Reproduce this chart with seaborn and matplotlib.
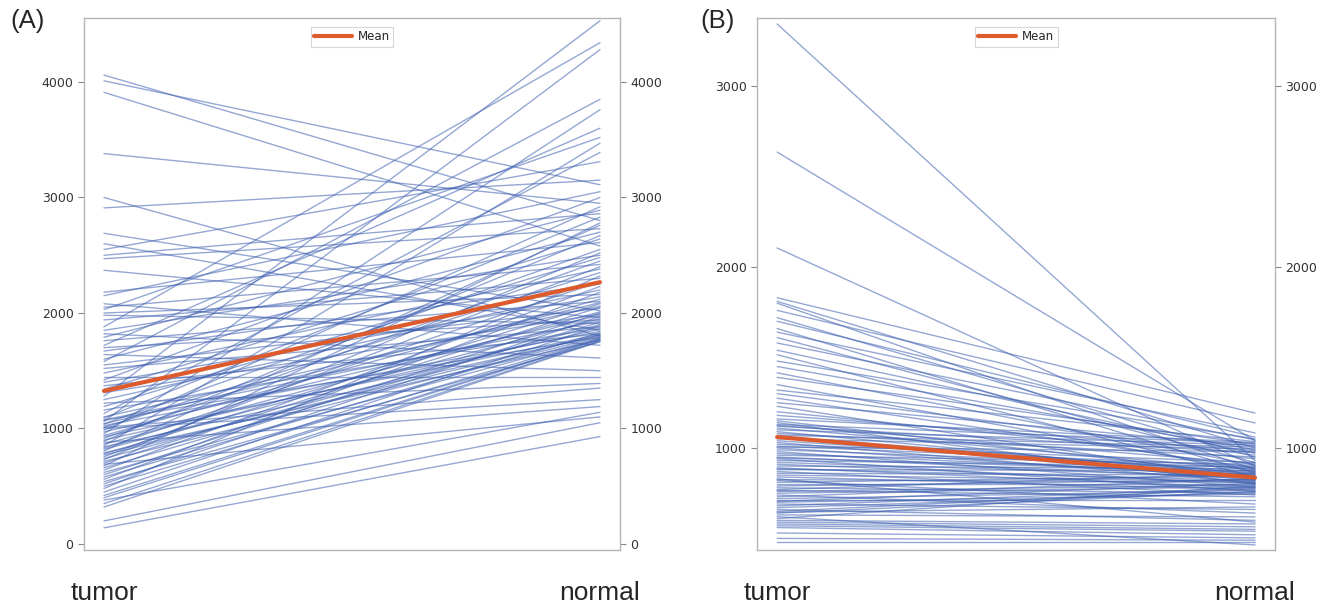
import numpy as np
import pandas as pd
import matplotlib
matplotlib.use('Agg')
import matplotlib.pyplot as plt
import seaborn as sns

# panel A: paired values, tumor -> normal
tumor_a = [4060, 4010, 3910, 3380, 3000, 2910, 2690, 2600, 2550, 2500,
           2470, 2370, 2180, 2150, 2080, 2050, 2030, 2000, 1980, 1940,
           1880, 1850, 1820, 1790, 1760, 1720, 1700, 1670, 1640, 1600,
           1580, 1550, 1520, 1480, 1450, 1420, 1400, 1370, 1340, 1310,
           1280, 1250, 1220, 1190, 1160, 1130, 1100, 1070, 1040, 1010,
           1090, 1075, 1060, 1040, 1025, 1010, 1000, 985, 970, 955,
           940, 930, 915, 900, 890, 880, 865, 850, 840, 830,
           820, 805, 790, 780, 770, 755, 740, 730, 715, 700,
           690, 675, 660, 640, 620, 600, 580, 560, 540, 520,
           500, 480, 450, 420, 400, 380, 350, 320, 200, 140]
normal_a = [2800, 3110, 2580, 2950, 1800, 3150, 2020, 1850, 3310, 2860,
            2730, 1960, 2610, 3050, 1720, 2420, 3520, 2160, 1910, 2300,
            4340, 2500, 1610, 2890, 2100, 3600, 1940, 2250, 1500, 2700,
            3850, 2040, 1880, 2380, 1450, 3000, 2140, 1820, 2640, 1990,
            4530, 2200, 1390, 2480, 1870, 3390, 2060, 1790, 2550, 1350,
            2830, 1930, 4280, 2090, 1840, 2350, 1250, 2920, 1980, 3760,
            2120, 1815, 2450, 1860, 2670, 1190, 2010, 3470, 1805, 2270,
            1950, 2760, 1765, 2080, 1810, 2400, 1900, 2520, 1795, 2050,
            1100, 2780, 1920, 2230, 1785, 2000, 1830, 2180, 1750, 1970,
            1780, 2320, 1890, 1775, 1770, 1140, 1760, 1755, 1050, 930]

# panel B
tumor_b = [3343, 2635, 2105, 1830, 1810, 1800, 1760, 1720, 1700, 1660,
           1640, 1610, 1580, 1540, 1515, 1480, 1450, 1415, 1390, 1350,
           1320, 1300, 1275, 1250, 1230, 1200, 1180, 1160, 1150, 1140,
           1130, 1125, 1120, 1110, 1100, 1090, 1080, 1070, 1065, 1060,
           1050, 1040, 1030, 1020, 1010, 1005, 1000, 990, 980, 970,
           960, 950, 945, 940, 930, 920, 910, 900, 890, 885,
           880, 870, 860, 850, 840, 830, 825, 820, 810, 800,
           790, 780, 770, 765, 760, 750, 740, 730, 720, 710,
           705, 700, 690, 680, 670, 660, 650, 645, 640, 630,
           620, 610, 600, 590, 580, 570, 560, 530, 500, 480]
normal_b = [930, 1040, 900, 1193, 1000, 880, 1138, 950, 1060, 860,
            1083, 920, 1044, 970, 840, 1050, 990, 905, 1020, 870,
            1035, 960, 890, 1010, 825, 940, 985, 1030, 850, 800,
            1025, 915, 975, 880, 1015, 845, 950, 1005, 860, 820,
            995, 870, 810, 920, 900, 980, 835, 890, 785, 855,
            910, 830, 865, 760, 895, 840, 805, 885, 780, 820,
            875, 740, 850, 815, 770, 590, 810, 690, 845, 800,
            825, 750, 860, 730, 795, 785, 640, 830, 765, 710,
            805, 745, 660, 780, 755, 600, 775, 674, 760, 619,
            464, 790, 580, 564, 550, 540, 520, 503, 490, 480]

groups = ['tumor', 'normal']


def long_df(tumor, normal):
    n = len(tumor)
    return pd.DataFrame({
        'id': list(range(n)) * 2,
        'x': [0] * n + [1] * n,
        'value': list(tumor) + list(normal),
    })


sns.set_style('white')
plt.rcParams['font.family'] = ['DejaVu Sans']

fig = plt.figure(figsize=(13.31, 6.12), dpi=100)
ax_a = fig.add_axes([0.0631, 0.1013, 0.4027, 0.8693])
ax_b = fig.add_axes([0.5688, 0.1013, 0.3892, 0.8693])

panels = [
    (ax_a, tumor_a, normal_a, (-52, 4554), [0, 1000, 2000, 3000, 4000], 0.0403),
    (ax_b, tumor_b, normal_b, (436, 3376), [1000, 2000, 3000], 0.042),
]

for ax, tum, nor, ylim, yticks, mx in panels:
    df = long_df(tum, nor)
    sns.lineplot(data=df, x='x', y='value', units='id', estimator=None,
                 color='#3d5fb0', alpha=0.55, lw=1.0, ax=ax, legend=False)
    mean_df = pd.DataFrame({'x': [0, 1], 'value': [np.mean(tum), np.mean(nor)]})
    sns.lineplot(data=mean_df, x='x', y='value', color='#dc5a2c', lw=3,
                 label='Mean', ax=ax)

    ax.set_xlim(-mx, 1 + mx)
    ax.set_ylim(*ylim)
    ax.set_xticks([0, 1])
    ax.set_xticklabels(groups, fontsize=19, family='Liberation Sans')
    ax.tick_params(axis='x', length=0, pad=22)
    ax.set_yticks(yticks)
    ax.tick_params(axis='y', which='both', left=True, right=True,
                   labelleft=True, labelright=True, direction='out',
                   length=4, width=0.8, color='#888888', labelsize=9,
                   labelcolor='#333333')
    ax.set_xlabel('')
    ax.set_ylabel('')
    for s in ax.spines.values():
        s.set_color('#b5b5b5')
        s.set_linewidth(1.0)

    leg = ax.legend(loc='upper center', bbox_to_anchor=(0.5, 0.995),
                    fontsize=8.5, frameon=True, handlelength=3.2,
                    borderpad=0.3, fancybox=False, handletextpad=0.5)
    leg.get_frame().set_edgecolor('#cccccc')
    leg.get_frame().set_linewidth(0.8)

fig.text(0.0075, 0.965, '(A)', fontsize=18.5, family='Liberation Sans', va='center')
fig.text(0.526, 0.965, '(B)', fontsize=18.5, family='Liberation Sans', va='center')

fig.savefig('out.png', dpi=100)
